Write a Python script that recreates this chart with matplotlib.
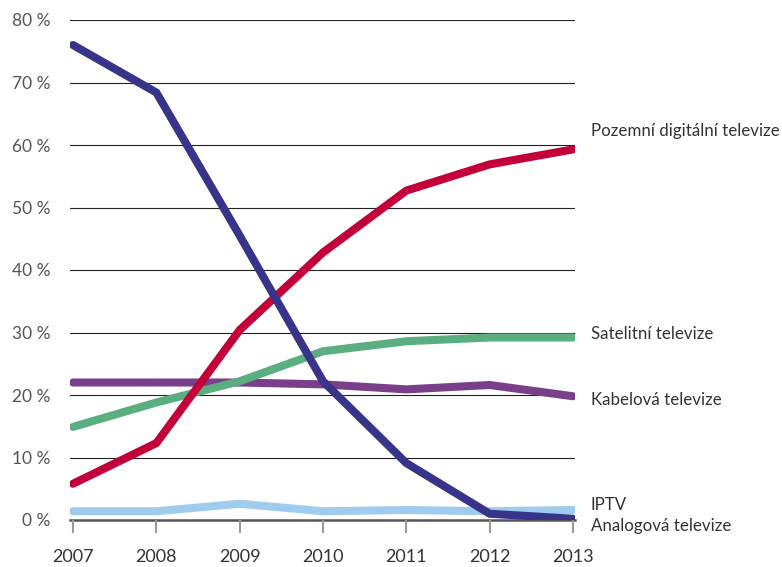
import numpy as np
import matplotlib
matplotlib.use("Agg")
import matplotlib.pyplot as plt

plt.rcParams["font.family"] = ["Lato", "DejaVu Sans"]

years = [2007, 2008, 2009, 2010, 2011, 2012, 2013]
y_ticks = [0, 10, 20, 30, 40, 50, 60, 70, 80]

analog = [76.0, 68.4, 45.5, 22.2, 9.1, 1.0, 0.2]
pozemni = [5.8, 12.3, 30.4, 42.8, 52.7, 56.9, 59.3]
satelit = [14.9, 18.8, 22.2, 27.0, 28.6, 29.2, 29.2]
kabel = [22.0, 22.0, 22.0, 21.7, 20.9, 21.6, 19.8]
iptv = [1.4, 1.4, 2.6, 1.4, 1.6, 1.4, 1.6]

series = [
    ("IPTV", iptv, "#9fcbee", 505),
    ("Kabelová televize", kabel, "#7a3f8a", 400),
    ("Satelitní televize", satelit, "#5aae7f", 334),
    ("Pozemní digitální televize", pozemni, "#c4003a", 131),
    ("Analogová televize", analog, "#37348a", 526),
]

W, H = 782, 567
fig = plt.figure(figsize=(W / 100, H / 100), dpi=100)
ax_left, ax_right, ax_top, ax_bottom = 70, 575, 20, 520
ax = fig.add_axes([ax_left / W, 1 - ax_bottom / H, (ax_right - ax_left) / W, (ax_bottom - ax_top) / H])

px_per_year = 500 / 6
ax.set_xlim(2007 - 3 / px_per_year, 2013 + 2 / px_per_year)
ax.set_ylim(0, 80)

for y in y_ticks[1:]:
    ax.axhline(y, color="#222222", lw=0.8, zorder=1)
ax.axhline(0, color="#555555", lw=1.8, zorder=1, clip_on=False)

for name, vals, color, ty in series:
    ax.plot(years, vals, color=color, lw=5.8, solid_capstyle="round",
            solid_joinstyle="miter", zorder=3)
    fig.text(591 / W, 1 - ty / H, name, ha="left", va="center",
             fontsize=12.2, color="#333333")

for s in ax.spines.values():
    s.set_visible(False)

ax.set_xticks(years)
ax.set_xticklabels([str(y) for y in years])
ax.set_yticks(y_ticks)
ax.set_yticklabels([f"{y} %" for y in y_ticks])
ax.tick_params(axis="x", direction="out", length=9, width=1.5, color="#9a9a9a",
               pad=12, labelsize=13, labelcolor="#333333")
ax.tick_params(axis="y", length=0, pad=14, labelsize=12.5, labelcolor="#555555")

fig.savefig("out.png", dpi=100)
